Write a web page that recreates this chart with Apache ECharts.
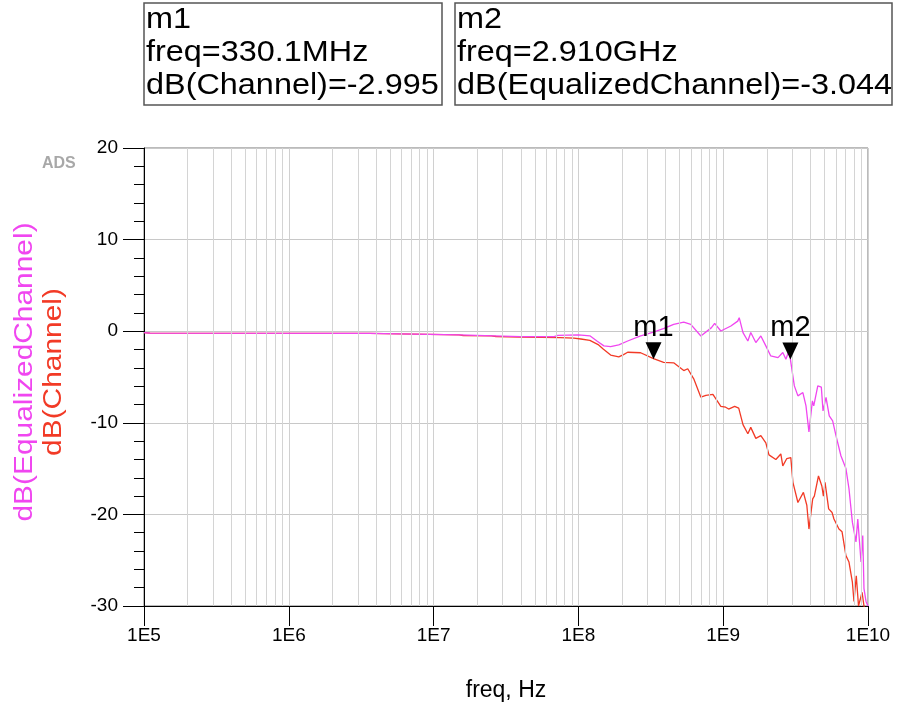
<!DOCTYPE html>
<html>
<head>
<meta charset="utf-8">
<script src="https://cdn.jsdelivr.net/npm/echarts@6/dist/echarts.min.js"></script>
<style>
  html, body { margin: 0; padding: 0; background: #ffffff; }
  #chart { width: 898px; height: 707px; }
</style>
</head>
<body>
<div id="chart"></div>
<script>
// Frequency response of the channel before and after equalization
const xTickLabels = ['1E5', '1E6', '1E7', '1E8', '1E9', '1E10'];

const chanFreq = [
  1e5, 1.1e5, 3.6e6, 3.7e6, 1.5e7, 1.6e7, 2.5e7, 2.7e7, 4e7, 7.5e7, 9.3e7,
  1.04e8, 1.2e8, 1.38e8, 1.49e8, 1.67e8, 1.9e8, 2.05e8, 2.19e8, 2.69e8, 3.301e8,
  3.88e8, 4.55e8, 5.34e8, 5.69e8, 6.26e8, 7.01e8, 7.6e8, 8.49e8, 9.63e8, 1.04e9,
  1.09e9, 1.2e9, 1.28e9, 1.37e9, 1.48e9, 1.55e9, 1.68e9, 1.82e9, 1.97e9, 2.07e9,
  2.31e9, 2.5e9, 2.58e9, 2.75e9, 2.93e9, 3.03e9, 3.28e9, 3.58e9, 3.78e9, 3.91e9,
  4.15e9, 4.26e9, 4.55e9, 4.8e9, 4.92e9, 5.05e9, 5.35e9, 5.65e9, 5.82e9, 6.3e9,
  6.62e9, 7.04e9, 7.39e9, 7.8e9, 8.0e9, 8.3e9, 8.6e9, 9.1e9, 9.38e9, 9.7e9, 1e10
];
const chanDb = [
  -0.15, -0.22, -0.23, -0.35, -0.4, -0.47, -0.5, -0.58, -0.65, -0.7, -0.75,
  -0.85, -1.0, -1.5, -1.97, -2.6, -2.8, -2.55, -2.3, -2.35, -2.995,
  -3.4, -3.45, -4.3, -4.1, -5.2, -7.2, -7.0, -6.9, -8.2, -8.3,
  -8.5, -8.2, -8.4, -10.2, -11.2, -10.5, -11.7, -11.4, -12.2, -13.5,
  -14.0, -13.4, -14.7, -13.9, -13.8, -16.5, -18.7, -17.6, -19.0, -21.6,
  -18.3, -18.0, -15.8, -16.9, -18.0, -16.5, -19.4, -19.8, -20.5, -21.6,
  -21.9, -24.5, -25.2, -27.4, -29.5, -26.7, -30, -28.5, -30, -31, -32
];

const eqFreq = [
  1e5, 1.1e5, 3.6e6, 3.7e6, 1.5e7, 2.6e7, 4e7, 6.8e7, 7.2e7, 1.0e8, 1.2e8,
  1.35e8, 1.5e8, 1.67e8, 1.9e8, 2.19e8, 2.69e8, 3.3e8, 3.9e8, 4.55e8, 5.34e8,
  5.97e8, 7.01e8, 8.3e8, 8.73e8, 9.63e8, 1.13e9, 1.26e9, 1.29e9, 1.37e9, 1.48e9,
  1.55e9, 1.68e9, 1.82e9, 1.97e9, 2.13e9, 2.39e9, 2.58e9, 2.71e9, 2.84e9, 2.91e9,
  3.1e9, 3.28e9, 3.55e9, 3.73e9, 3.91e9, 4.13e9, 4.22e9, 4.5e9, 4.76e9, 4.89e9,
  5.13e9, 5.4e9, 5.7e9, 6.01e9, 6.5e9, 7.04e9, 7.39e9, 7.8e9, 8.26e9, 8.5e9,
  8.95e9, 9.2e9, 9.38e9, 9.69e9, 1e10
];
const eqDb = [
  -0.15, -0.22, -0.23, -0.35, -0.4, -0.5, -0.6, -0.6, -0.45, -0.4, -0.5,
  -1.1, -1.6, -1.68, -1.5, -1.07, -0.52, -0.1, 0.3, 0.75, 1.0,
  0.75, -0.52, 0.39, 0.86, 0.02, 0.57, 1.1, 1.48, -0.15, -1.07,
  -0.15, -1.24, -0.52, -1.6, -2.7, -2.88, -2.33, -3.06, -2.16, -3.044,
  -5.97, -7.06, -6.7, -8.15, -11.0, -7.6, -8.15, -5.97, -6.1, -8.7,
  -7.23, -9.24, -9.78, -11.4, -13.6, -15.0, -17.2, -20.85, -23.0, -20.5,
  -25.2, -22.3, -28.1, -29.5, -30
];

// Marker readouts
const markerNames = ['m1', 'm2'];
const markerFreq = [330.1e6, 2.910e9];
const markerDb = [-2.995, -3.044];
const markerFreqText = ['330.1MHz', '2.910GHz'];
const markerTrace = ['Channel', 'EqualizedChannel'];

const FONT = 'Arial, "Liberation Sans", sans-serif';
const RED = '#f23a26';
const MAGENTA = '#f046f0';

function pairs(xs, ys) { return xs.map((x, i) => [x, ys[i]]); }

// minor log grid lines at 2..9 of each decade
const minorGrid = [];
for (let p = 5; p < 10; p++) {
  for (let k = 2; k <= 9; k++) minorGrid.push({ xAxis: k * Math.pow(10, p) });
}

function markerPoint(i) {
  return {
    silent: true,
    symbol: 'triangle',
    symbolRotate: 180,
    symbolSize: [16, 17],
    symbolOffset: [0, -8],
    itemStyle: { color: '#000' },
    label: {
      show: true, position: 'top', distance: 0, formatter: '{b}',
      color: '#000', fontSize: 29, fontFamily: FONT
    },
    data: [{ name: markerNames[i], coord: [markerFreq[i], markerDb[i]] }]
  };
}

function markerBox(i, left, width) {
  const lines = [
    markerNames[i],
    'freq=' + markerFreqText[i],
    'dB(' + markerTrace[i] + ')=' + markerDb[i].toFixed(3)
  ];
  const children = [{
    type: 'rect', shape: { x: left, y: 3, width: width, height: 102 },
    style: { fill: '#fff', stroke: '#555', lineWidth: 1.5 }
  }];
  lines.forEach((t, j) => children.push({
    type: 'text', x: left + 2, y: 20 + j * 33, scaleX: 1.08,
    style: { text: t, font: '30px ' + FONT, fill: '#000', verticalAlign: 'middle', align: 'left' }
  }));
  return { type: 'group', children: children };
}

const chart = echarts.init(document.getElementById('chart'), null, { renderer: 'canvas' });
chart.setOption({
  animation: false,
  backgroundColor: '#ffffff',
  grid: {
    left: 144, right: 30, top: 148, bottom: 100,
    show: true, borderColor: '#777', borderWidth: 1, backgroundColor: 'transparent'
  },
  xAxis: {
    type: 'log', logBase: 10, min: 1e5, max: 1e10,
    name: 'freq, Hz', nameLocation: 'middle', nameGap: 73,
    nameTextStyle: { fontSize: 23, fontFamily: FONT, color: '#000' },
    axisLine: { show: true, onZero: false, lineStyle: { color: '#000', width: 1 } },
    axisTick: { show: true, inside: false, length: 20, lineStyle: { color: '#000', width: 1 } },
    axisLabel: {
      fontSize: 19, fontFamily: FONT, color: '#000', margin: 20,
      formatter: v => xTickLabels[Math.round(Math.log10(v)) - 5]
    },
    splitLine: { show: true, lineStyle: { color: '#d0d0d0', width: 1 } }
  },
  yAxis: {
    type: 'value', min: -30, max: 20, interval: 10,
    axisLine: { show: true, onZero: false, lineStyle: { color: '#000', width: 1 } },
    axisTick: { show: true, inside: false, length: 21, lineStyle: { color: '#000', width: 1 } },
    minorTick: { show: true, splitNumber: 5, length: 10, lineStyle: { color: '#000', width: 1 } },
    axisLabel: { fontSize: 19, fontFamily: FONT, color: '#000', margin: 26 },
    splitLine: { show: true, lineStyle: { color: '#c8c8c8', width: 1 } }
  },
  series: [
    {
      name: 'grid', type: 'line', data: [], z: 1, silent: true,
      markLine: {
        silent: true, symbol: ['none', 'none'], animation: false,
        label: { show: false },
        lineStyle: { color: '#d4d4d4', type: 'solid', width: 1 },
        emphasis: { disabled: true },
        data: minorGrid
      }
    },
    {
      name: 'dB(Channel)', type: 'line', z: 3, showSymbol: false, symbol: 'none',
      lineStyle: { color: RED, width: 1.3 }, itemStyle: { color: RED },
      data: pairs(chanFreq, chanDb),
      markPoint: markerPoint(0)
    },
    {
      name: 'dB(EqualizedChannel)', type: 'line', z: 4, showSymbol: false, symbol: 'none',
      lineStyle: { color: MAGENTA, width: 1.3 }, itemStyle: { color: MAGENTA },
      data: pairs(eqFreq, eqDb),
      markPoint: markerPoint(1)
    }
  ],
  graphic: [
    markerBox(0, 144, 298),
    markerBox(1, 455, 437),
    {
      type: 'text', x: 42, y: 164,
      style: { text: 'ADS', font: 'bold 16px ' + FONT, fill: '#a8a8a8', verticalAlign: 'middle' }
    },
    {
      type: 'text', x: 25, y: 372, rotation: Math.PI / 2, scaleX: 1.15,
      style: { text: 'dB(EqualizedChannel)', font: '26px ' + FONT, fill: MAGENTA, align: 'center', verticalAlign: 'middle' }
    },
    {
      type: 'text', x: 54, y: 372, rotation: Math.PI / 2, scaleX: 1.15,
      style: { text: 'dB(Channel)', font: '26px ' + FONT, fill: RED, align: 'center', verticalAlign: 'middle' }
    }
  ]
});
</script>
</body>
</html>
